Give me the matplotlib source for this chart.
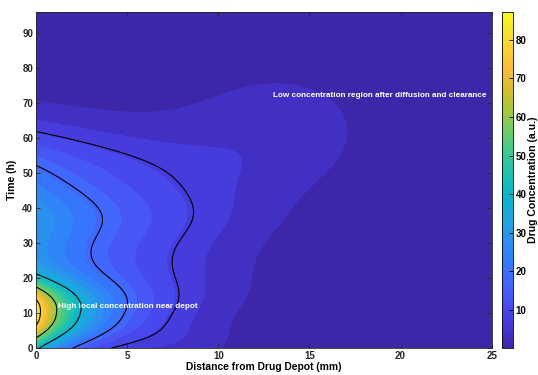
import numpy as np
import matplotlib
matplotlib.use("Agg")
import matplotlib.pyplot as plt
from matplotlib.colors import LinearSegmentedColormap, Normalize
from matplotlib.cm import ScalarMappable

plt.rcParams["font.family"] = ["Liberation Sans", "DejaVu Sans"]

# Axes extents
dist_range = [0, 25]      # mm
time_range = [0, 96]      # h
conc_range = [0.1, 87.3]  # colour bar limits (a.u.)

# Ticks
dist_ticks = [0, 5, 10, 15, 20, 25]
time_ticks = [0, 10, 20, 30, 40, 50, 60, 70, 80, 90]
conc_ticks = [10, 20, 30, 40, 50, 60, 70, 80]

# Black iso-lines
line_levels = [10, 20, 40, 60, 80]
n_fill_levels = 24

# Field components (amplitudes, centres, widths)
burst = [49, 10, 8.6, 2.5, 2.3]         # amp, peak time, time width, shape, decay length mm
release = [28, 58, 6.5]                 # plateau, fall-off time, fall-off width
early_boost = [10, 12, 8]               # amp, time, width
late_bump = [4.5, 37, 5.5]              # amp, time, width
spread = [2.7, 10, 28, 14.5]            # decay length start, end, time const, cutoff mm
halo = [4.0, 8, 2.6, 5]                 # amp, centre mm, width mm, time width
plume = [5, 13.5, 4, 63, 14]            # amp, centre mm, width mm, centre h, width h

annotations = [
    (1.2, 12, "High local concentration near depot"),
    (13.0, 72, "Low concentration region after diffusion and clearance"),
]

# MATLAB parula anchors
parula = [
    (0.2422, 0.1504, 0.6603), (0.2706, 0.2147, 0.8364), (0.2813, 0.3006, 0.9414),
    (0.2699, 0.3892, 0.9906), (0.1963, 0.4847, 0.9892), (0.1687, 0.5703, 0.9359),
    (0.1248, 0.6459, 0.8883), (0.0297, 0.7082, 0.8163), (0.0964, 0.7500, 0.7120),
    (0.2161, 0.7843, 0.5923), (0.3909, 0.8029, 0.4354), (0.6174, 0.7876, 0.2612),
    (0.8203, 0.7498, 0.1535), (0.9728, 0.7298, 0.2394), (0.9892, 0.8136, 0.1885),
    (0.9597, 0.9135, 0.1423), (0.9769, 0.9839, 0.0805),
]
parula_pos = [0, 4, 8, 12, 16, 20, 24, 28, 32, 36, 40, 44, 48, 52, 56, 60, 63]


def gauss(v, centre, width):
    return np.exp(-(v - centre) ** 2 / (2 * width ** 2))


def concentration(x, t):
    """Concentration field around the depot"""
    a, tc, tw, q, lb = burst
    c = a * np.exp(-(np.abs(t - tc) / tw) ** q) * np.exp(-x / lb)

    # sustained release spreading outwards
    s0 = release[0] / (1 + np.exp((t - release[1]) / release[2]))
    s0 = s0 + early_boost[0] * gauss(t, early_boost[1], early_boost[2])
    s0 = s0 + late_bump[0] * gauss(t, late_bump[1], late_bump[2])
    l0, l1, tau, cut = spread
    length = l1 - (l1 - l0) * np.exp(-t / tau)
    c = c + s0 * np.exp(-x / length - (x / cut) ** 4)

    ha, hx, hw, ht = halo
    c = c + ha * gauss(x, hx, hw) * gauss(t, 0, ht)

    pa, px, pw, pt, ptw = plume
    c = c + pa * gauss(x, px, pw) * gauss(t, pt, ptw)
    return c


def plot_field():
    x = np.linspace(dist_range[0], dist_range[1], 301)
    t = np.linspace(time_range[0], time_range[1], 385)
    X, T = np.meshgrid(x, t)
    C = concentration(X, T)

    cmap = LinearSegmentedColormap.from_list(
        "parula", list(zip(np.array(parula_pos) / 63, parula)), N=256)
    norm = Normalize(conc_range[0], conc_range[1])

    # MATLAB style filled contours: each band takes the colour of its lower level
    levels = np.linspace(conc_range[0], conc_range[1], n_fill_levels + 2)[1:-1]
    bounds = np.concatenate([[C.min() - 1], levels, [C.max() + 1]])
    band_colors = cmap(norm(np.concatenate([[conc_range[0]], levels])))

    fig = plt.figure(figsize=(5.38, 3.75), dpi=100)
    ax = fig.add_axes([0.0669, 0.0712, 0.847, 0.8976])
    cax = fig.add_axes([0.9325, 0.0712, 0.021, 0.8976])

    ax.contourf(X, T, C, levels=bounds, colors=band_colors)
    ax.contour(X, T, C, levels=line_levels, colors="black", linewidths=0.8)

    for xa, ya, label in annotations:
        ax.text(xa, ya, label, color="white", fontsize=5.85, fontweight="bold",
                ha="left", va="center")

    ax.set_xlim(dist_range)
    ax.set_ylim(time_range)
    ax.set_xticks(dist_ticks)
    ax.set_yticks(time_ticks)
    ax.tick_params(direction="in", length=3, width=0.6, top=True, right=True,
                   labelsize=7, pad=2, colors="#262626")
    for lab in ax.get_xticklabels() + ax.get_yticklabels():
        lab.set_fontweight("bold")
    for sp in ax.spines.values():
        sp.set_linewidth(0.6)
        sp.set_color("#262626")
    ax.set_xlabel("Distance from Drug Depot (mm)", fontsize=7.4, fontweight="bold", labelpad=1)
    ax.set_ylabel("Time (h)", fontsize=7.6, fontweight="bold", labelpad=4)

    sm = ScalarMappable(norm=norm, cmap=cmap)
    cb = fig.colorbar(sm, cax=cax, ticks=conc_ticks)
    cb.outline.set_linewidth(0.6)
    cb.ax.tick_params(direction="in", length=3, width=0.6, labelsize=7, pad=2)
    for lab in cb.ax.get_yticklabels():
        lab.set_fontweight("bold")
    cb.set_label("Drug Concentration (a.u.)", fontsize=7.6, fontweight="bold", labelpad=1)

    fig.savefig("out.png", dpi=100)


if __name__ == "__main__":
    plot_field()
